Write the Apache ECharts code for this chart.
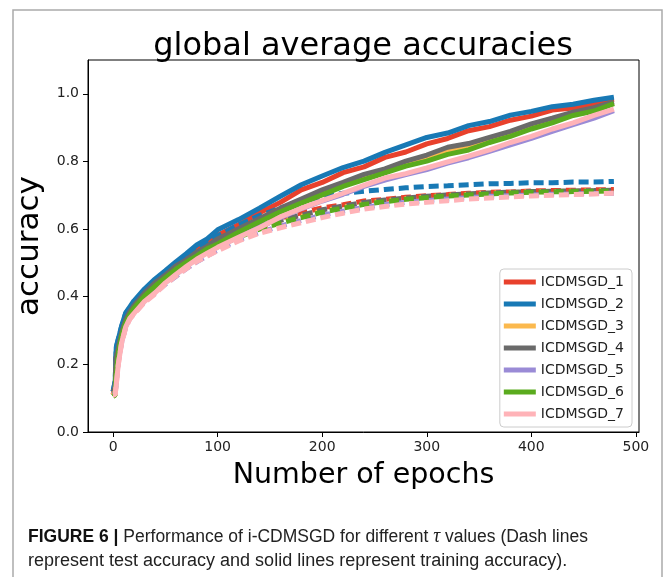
<!DOCTYPE html>
<html>
<head>
<meta charset="utf-8">
<title>global average accuracies</title>
<script src="https://cdn.jsdelivr.net/npm/echarts@6/dist/echarts.min.js"></script>
<style>
  html, body { margin: 0; padding: 0; background: #fff; }
  #chart { width: 665px; height: 577px; }
</style>
</head>
<body>
<div id="chart"></div>
<script>
// epochs sampled from the figure (denser at the start where it climbs fast)
const epochs = [0, 2, 3, 5, 8, 12, 16, 20, 30, 40, 50, 60, 70, 80, 90, 100, 120, 140, 160, 180,
  200, 220, 240, 260, 280, 300, 320, 340, 360, 380, 400, 420, 440, 460, 479]

const names = ['ICDMSGD_1', 'ICDMSGD_2', 'ICDMSGD_3', 'ICDMSGD_4', 'ICDMSGD_5', 'ICDMSGD_6', 'ICDMSGD_7']
const colors = ['#e8412c', '#1879b5', '#fbb94e', '#6a6a6a', '#9a8bd6', '#5aab1e', '#ffb3b8']

// training accuracy (solid)
const train1 = [0.11, 0.13, 0.22, 0.26, 0.30, 0.34, 0.362, 0.378, 0.414, 0.447, 0.468, 0.497, 0.518, 0.542, 0.558, 0.582, 0.613, 0.648, 0.679, 0.716, 0.738, 0.767, 0.784, 0.812, 0.828, 0.852, 0.868, 0.891, 0.903, 0.922, 0.934, 0.952, 0.958, 0.972, 0.984]
const train2 = [0.12, 0.15, 0.25, 0.275, 0.312, 0.352, 0.37, 0.388, 0.423, 0.452, 0.477, 0.503, 0.527, 0.553, 0.571, 0.598, 0.628, 0.662, 0.697, 0.731, 0.757, 0.782, 0.801, 0.827, 0.849, 0.871, 0.884, 0.906, 0.918, 0.937, 0.948, 0.962, 0.969, 0.981, 0.99]
const train3 = [0.11, 0.12, 0.19, 0.24, 0.285, 0.325, 0.35, 0.37, 0.405, 0.436, 0.46, 0.486, 0.506, 0.526, 0.546, 0.565, 0.596, 0.626, 0.655, 0.684, 0.709, 0.733, 0.753, 0.772, 0.793, 0.812, 0.831, 0.847, 0.864, 0.884, 0.903, 0.923, 0.94, 0.955, 0.972]
const train4 = [0.12, 0.13, 0.22, 0.25, 0.292, 0.332, 0.356, 0.374, 0.411, 0.441, 0.464, 0.491, 0.509, 0.532, 0.549, 0.571, 0.601, 0.631, 0.662, 0.689, 0.716, 0.738, 0.762, 0.778, 0.801, 0.819, 0.842, 0.853, 0.871, 0.889, 0.911, 0.928, 0.946, 0.959, 0.976]
const train5 = [0.11, 0.115, 0.15, 0.21, 0.265, 0.312, 0.338, 0.352, 0.388, 0.414, 0.442, 0.466, 0.49, 0.512, 0.531, 0.547, 0.577, 0.606, 0.634, 0.66, 0.683, 0.703, 0.726, 0.745, 0.761, 0.776, 0.795, 0.811, 0.83, 0.849, 0.868, 0.889, 0.909, 0.928, 0.95]
const train6 = [0.105, 0.11, 0.17, 0.23, 0.282, 0.322, 0.347, 0.366, 0.402, 0.431, 0.456, 0.481, 0.502, 0.521, 0.542, 0.556, 0.591, 0.622, 0.651, 0.677, 0.701, 0.726, 0.746, 0.766, 0.786, 0.801, 0.821, 0.834, 0.856, 0.874, 0.896, 0.914, 0.936, 0.949, 0.971]
const train7 = [0.11, 0.11, 0.14, 0.2, 0.262, 0.31, 0.336, 0.351, 0.386, 0.411, 0.441, 0.466, 0.489, 0.511, 0.529, 0.546, 0.576, 0.604, 0.636, 0.661, 0.684, 0.706, 0.729, 0.751, 0.764, 0.781, 0.799, 0.816, 0.834, 0.856, 0.874, 0.896, 0.914, 0.936, 0.955]

// test accuracy (dashed)
const test1 = [0.11, 0.13, 0.22, 0.26, 0.30, 0.338, 0.36, 0.376, 0.41, 0.442, 0.464, 0.49, 0.51, 0.532, 0.55, 0.571, 0.597, 0.616, 0.633, 0.648, 0.663, 0.672, 0.683, 0.688, 0.694, 0.699, 0.702, 0.706, 0.709, 0.71, 0.713, 0.714, 0.715, 0.716, 0.717]
const test2 = [0.12, 0.15, 0.25, 0.275, 0.31, 0.35, 0.368, 0.385, 0.42, 0.449, 0.473, 0.498, 0.52, 0.543, 0.56, 0.58, 0.612, 0.64, 0.662, 0.681, 0.696, 0.706, 0.712, 0.717, 0.722, 0.726, 0.728, 0.731, 0.734, 0.735, 0.737, 0.737, 0.739, 0.739, 0.741]
const test3 = [0.11, 0.12, 0.19, 0.24, 0.285, 0.323, 0.348, 0.367, 0.402, 0.432, 0.456, 0.48, 0.5, 0.52, 0.538, 0.555, 0.58, 0.603, 0.622, 0.638, 0.654, 0.665, 0.676, 0.684, 0.69, 0.695, 0.7, 0.703, 0.706, 0.708, 0.71, 0.711, 0.712, 0.713, 0.714]
const test4 = [0.12, 0.13, 0.22, 0.25, 0.29, 0.33, 0.354, 0.372, 0.408, 0.437, 0.46, 0.485, 0.505, 0.525, 0.543, 0.562, 0.588, 0.609, 0.626, 0.641, 0.657, 0.668, 0.679, 0.686, 0.692, 0.697, 0.701, 0.704, 0.707, 0.709, 0.711, 0.712, 0.713, 0.714, 0.715]
const test5 = [0.11, 0.115, 0.15, 0.21, 0.263, 0.31, 0.336, 0.35, 0.385, 0.41, 0.437, 0.46, 0.483, 0.503, 0.521, 0.538, 0.568, 0.59, 0.609, 0.625, 0.641, 0.653, 0.664, 0.672, 0.679, 0.684, 0.689, 0.693, 0.697, 0.699, 0.701, 0.703, 0.704, 0.705, 0.706]
const test6 = [0.105, 0.11, 0.17, 0.23, 0.28, 0.32, 0.345, 0.364, 0.399, 0.428, 0.452, 0.476, 0.496, 0.515, 0.534, 0.55, 0.576, 0.6, 0.618, 0.634, 0.65, 0.662, 0.673, 0.681, 0.688, 0.693, 0.698, 0.701, 0.704, 0.707, 0.709, 0.71, 0.711, 0.712, 0.713]
const test7 = [0.11, 0.11, 0.14, 0.2, 0.26, 0.308, 0.334, 0.349, 0.383, 0.408, 0.437, 0.461, 0.483, 0.504, 0.52, 0.536, 0.565, 0.588, 0.604, 0.619, 0.634, 0.647, 0.659, 0.667, 0.674, 0.679, 0.684, 0.689, 0.692, 0.695, 0.698, 0.7, 0.702, 0.704, 0.706]

const xTicks = [0, 100, 200, 300, 400, 500]
const yTicks = [0, 0.2, 0.4, 0.6, 0.8, 1.0]

const trainAcc = [train1, train2, train3, train4, train5, train6, train7]
const testAcc = [test1, test2, test3, test4, test5, test6, test7]

const chart = echarts.init(document.getElementById('chart'), null, { renderer: 'canvas' })

function lineSeries(name, values, color, dashed) {
  return {
    name,
    type: 'line',
    data: epochs.map((e, i) => [e, values[i]]),
    symbol: 'none',
    showSymbol: false,
    lineStyle: { width: 5, color, type: dashed ? [10, 5] : 'solid', cap: 'butt' },
    itemStyle: { color },
    emphasis: { disabled: true },
  }
}

const series = []
names.forEach((n, i) => {
  series.push(lineSeries(n, trainAcc[i], colors[i], false))
  series.push(lineSeries(n, testAcc[i], colors[i], true))
})

const tickFont = { color: '#222', fontSize: 14, fontFamily: 'DejaVu Sans' }

chart.setOption({
  animation: false,
  backgroundColor: '#fff',
  grid: { left: 88, right: 26, top: 60, bottom: 145, show: true, borderColor: '#000', borderWidth: 1, backgroundColor: 'transparent' },
  xAxis: {
    type: 'value',
    min: -24, max: 503,
    name: 'Number of epochs',
    nameLocation: 'middle',
    nameGap: 29,
    nameTextStyle: { color: '#000', fontSize: 28.5, fontFamily: 'DejaVu Sans' },
    axisLine: { show: true, onZero: false, lineStyle: { color: '#000', width: 1 } },
    axisTick: { show: true, length: 5, customValues: xTicks, lineStyle: { color: '#000' } },
    axisLabel: { ...tickFont, margin: 8, customValues: xTicks },
    splitLine: { show: false },
  },
  yAxis: {
    type: 'value',
    min: 0, max: 1.1,
    name: 'accuracy',
    nameLocation: 'middle',
    nameGap: 38,
    nameRotate: 90,
    nameTextStyle: { color: '#000', fontSize: 31, fontFamily: 'DejaVu Sans' },
    axisLine: { show: true, onZero: false, lineStyle: { color: '#000', width: 1 } },
    axisTick: { show: true, length: 5, customValues: yTicks, lineStyle: { color: '#000' } },
    axisLabel: { ...tickFont, margin: 9, customValues: yTicks, formatter: v => v.toFixed(1) },
    splitLine: { show: false },
  },
  legend: {
    data: names,
    orient: 'vertical',
    right: 33, top: 269,
    icon: 'rect',
    itemWidth: 32, itemHeight: 5,
    itemGap: 8,
    padding: [6, 8, 6, 4],
    backgroundColor: 'rgba(255,255,255,0.85)',
    borderColor: '#ccc', borderWidth: 1, borderRadius: 4,
    textStyle: { color: '#222', fontSize: 14, fontFamily: 'DejaVu Sans' },
  },
  graphic: [
    // outer figure frame
    { type: 'rect', shape: { x: 13, y: 10, width: 649, height: 620 }, style: { fill: 'none', stroke: '#aaa', lineWidth: 1.5 }, silent: true },
    {
      type: 'text', x: 363, y: 47,
      style: { text: 'global average accuracies', fill: '#000', font: '32px "DejaVu Sans"', align: 'center', verticalAlign: 'middle' },
    },
    {
      type: 'text', x: 28, y: 537, scaleX: 0.972,
      style: {
        text: '{b|FIGURE 6 |} Performance of i-CDMSGD for different {i|τ} values (Dash lines',
        fill: '#222', font: '18px "Liberation Sans"', verticalAlign: 'middle',
        rich: {
          b: { fontWeight: 'bold', fontSize: 18, fontFamily: 'Liberation Sans', fill: '#111' },
          i: { fontStyle: 'italic', fontSize: 20, fontFamily: 'Liberation Serif' },
        },
      },
    },
    {
      type: 'text', x: 28, y: 561,
      style: { text: 'represent test accuracy and solid lines represent training accuracy).', fill: '#222', font: '18px "Liberation Sans"', verticalAlign: 'middle' },
    },
  ],
  series,
})
</script>
</body>
</html>
